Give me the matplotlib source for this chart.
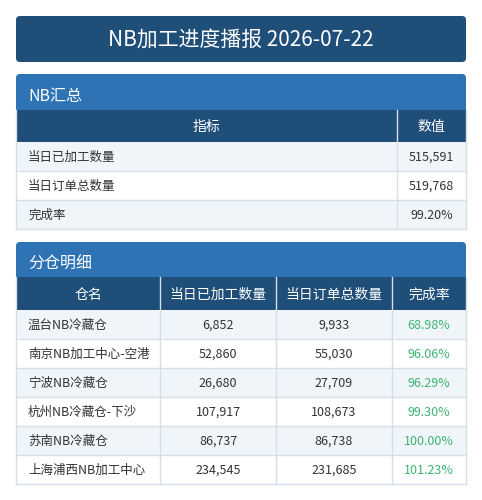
import matplotlib.pyplot as plt
from matplotlib.patches import FancyBboxPatch, Rectangle

plt.rcParams['font.family'] = ['Noto Sans CJK SC', 'DejaVu Sans']

title = 'NB加工进度播报 2026-07-22'
summary_cols = ['指标', '数值']
summary_names = ['当日已加工数量', '当日订单总数量', '完成率']
summary_vals = ['515,591', '519,768', '99.20%']

detail_cols = ['仓名', '当日已加工数量', '当日订单总数量', '完成率']
warehouses = ['温台NB冷藏仓', '南京NB加工中心-空港', '宁波NB冷藏仓',
              '杭州NB冷藏仓-下沙', '苏南NB冷藏仓', '上海浦西NB加工中心']
processed = [6852, 52860, 26680, 107917, 86737, 234545]
ordered = [9933, 55030, 27709, 108673, 86738, 231685]
rates = ['68.98%', '96.06%', '96.29%', '99.30%', '100.00%', '101.23%']

DARK = '#1f4e79'
MID = '#2e74b5'
LIGHT = '#f0f5fa'
LINE = '#d5dfea'
TXT = '#333333'
GREEN = '#3cb371'

fig = plt.figure(figsize=(4.82, 5.0), dpi=100)
ax = fig.add_axes([0, 0, 1, 1])
ax.set_xlim(0, 482)
ax.set_ylim(500, 0)
ax.axis('off')

L, R = 16, 466


def rbox(x0, y0, x1, y1, color, top_only=False):
    ax.add_patch(FancyBboxPatch((x0 + 4, y0 + 4), x1 - x0 - 8, y1 - y0 - 8,
                                boxstyle='round,pad=4', fc=color, ec='none'))
    if top_only:
        ax.add_patch(Rectangle((x0, (y0 + y1) / 2), x1 - x0, (y1 - y0) / 2,
                               fc=color, ec='none'))


def table(top, edges, cols, rows, row_h=29, head_h=33, colors=None, aligns=None):
    ax.add_patch(Rectangle((L, top), R - L, head_h, fc=DARK, ec='none'))
    for i, c in enumerate(cols):
        ax.text((edges[i] + edges[i + 1]) / 2, top + head_h / 2 + 1, c,
                color='white', fontsize=10, ha='center', va='center')
    for e in edges[1:-1]:
        ax.plot([e, e], [top, top + head_h + row_h * len(rows)], color=LINE, lw=1)
    y = top + head_h
    for r, row in enumerate(rows):
        fc = LIGHT if r % 2 == 0 else 'white'
        ax.add_patch(Rectangle((L, y), R - L, row_h, fc=fc, ec='none', zorder=0))
        ax.plot([L, R], [y + row_h, y + row_h], color=LINE, lw=1)
        for i, v in enumerate(row):
            col = colors[i] if colors else TXT
            if aligns[i] == 'left':
                ax.text(edges[i] + 12, y + row_h / 2 + 1, v, color=col, fontsize=9,
                        ha='left', va='center')
            else:
                ax.text((edges[i] + edges[i + 1]) / 2, y + row_h / 2 + 1, v,
                        color=col, fontsize=9, ha='center', va='center')
        y += row_h
    ax.plot([L, L], [top, y], color=LINE, lw=1)
    ax.plot([R, R], [top, y], color=LINE, lw=1)


# title
rbox(L, 16, R, 62, DARK)
ax.text((L + R) / 2, 40, title, color='white', fontsize=15, ha='center', va='center')

# summary
rbox(L, 74, R, 110, MID, top_only=True)
ax.text(28, 97, 'NB汇总', color='white', fontsize=11.5, ha='left', va='center')
table(110, [L, 397, R], summary_cols,
      list(zip(summary_names, summary_vals)), head_h=32,
      aligns=['left', 'center'])

# detail
rbox(L, 242, R, 277, MID, top_only=True)
ax.text(28, 264, '分仓明细', color='white', fontsize=11.5, ha='left', va='center')
rows = [(w, f'{p:,}', f'{o:,}', r) for w, p, o, r in zip(warehouses, processed, ordered, rates)]
table(277, [L, 160, 276, 392, R], detail_cols, rows,
      colors=[TXT, TXT, TXT, GREEN], aligns=['left', 'center', 'center', 'center'])

fig.savefig('out.png', dpi=100)
